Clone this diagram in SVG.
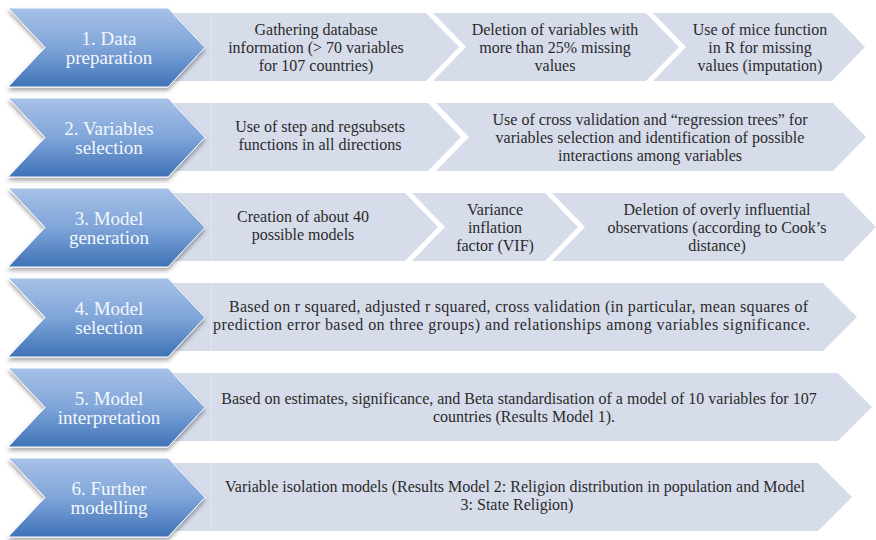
<svg xmlns="http://www.w3.org/2000/svg" width="876" height="540" viewBox="0 0 876 540">
  <defs>
    <linearGradient id="blueFill" x1="0" y1="0" x2="0" y2="1">
      <stop offset="0" stop-color="#a8c1e7"/>
      <stop offset="0.5" stop-color="#7fa5d9"/>
      <stop offset="1" stop-color="#3e72b7"/>
    </linearGradient>
    <filter id="shadow" x="-10%" y="-10%" width="120%" height="130%">
      <feDropShadow dx="0" dy="3" stdDeviation="2" flood-color="#000" flood-opacity="0.35"/>
    </filter>
  </defs>
  <style>
    .step { fill: url(#blueFill); stroke: #ffffff; stroke-width: 1; filter: url(#shadow); }
    .box { fill: #d6dcea; }
    .seam { stroke: #e3e7f0; stroke-width: 1; }
    .stepText { font-family: "Liberation Serif", "Times New Roman", serif; font-size: 19px; fill: #f4f7fc; text-anchor: middle; }
    .boxText { font-family: "Liberation Serif", "Times New Roman", serif; font-size: 16px; fill: #2b2b2b; text-anchor: middle; }
    .left { text-anchor: start; }
  </style>

  <rect width="876" height="540" fill="#ffffff"/>

  <!-- Row 1: Data preparation -->
  <g id="row1">
    <rect class="box" x="172" y="13" width="40" height="68"/>
    <g id="r1b1">
      <polygon class="box" points="211,13 426,13 459,47 426,81 211,81"/>
      <line class="seam" x1="211" y1="13" x2="211" y2="81"/>
      <text class="boxText" x="316" y="35">Gathering database</text>
      <text class="boxText" x="316" y="53">information (&gt; 70 variables</text>
      <text class="boxText" x="316" y="71">for 107 countries)</text>
    </g>
    <g id="r1b2">
      <polygon class="box" points="433,13 646,13 679,47 646,81 433,81 466,47"/>
      <text class="boxText" x="555" y="35">Deletion of variables with</text>
      <text class="boxText" x="555" y="53">more than 25% missing</text>
      <text class="boxText" x="555" y="71">values</text>
    </g>
    <g id="r1b3">
      <polygon class="box" points="653,13 832,13 865,47 832,81 653,81 686,47"/>
      <text class="boxText" x="760" y="35">Use of mice function</text>
      <text class="boxText" x="760" y="53">in R for missing</text>
      <text class="boxText" x="760" y="71">values (imputation)</text>
    </g>
    <g id="step1">
      <polygon class="step" points="8,8 168,8 205,47.5 168,87 8,87 45,47.5"/>
      <text class="stepText" x="109" y="45">1. Data</text>
      <text class="stepText" x="109" y="64">preparation</text>
    </g>
  </g>

  <!-- Row 2: Variables selection -->
  <g id="row2">
    <rect class="box" x="172" y="103" width="40" height="68"/>
    <g id="r2b1">
      <polygon class="box" points="211,103 428,103 461,137 428,171 211,171"/>
      <line class="seam" x1="211" y1="103" x2="211" y2="171"/>
      <text class="boxText" x="320" y="132">Use of step and regsubsets</text>
      <text class="boxText" x="320" y="150">functions in all directions</text>
    </g>
    <g id="r2b2">
      <polygon class="box" points="436,103 833,103 866,137 833,171 436,171 469,137"/>
      <text class="boxText" x="650" y="125">Use of cross validation and “regression trees” for</text>
      <text class="boxText" x="650" y="143">variables selection and identification of possible</text>
      <text class="boxText" x="650" y="161">interactions among variables</text>
    </g>
    <g id="step2">
      <polygon class="step" points="8,98 168,98 205,137.5 168,177 8,177 45,137.5"/>
      <text class="stepText" x="109" y="135">2. Variables</text>
      <text class="stepText" x="109" y="154">selection</text>
    </g>
  </g>

  <!-- Row 3: Model generation -->
  <g id="row3">
    <rect class="box" x="172" y="193" width="40" height="68"/>
    <g id="r3b1">
      <polygon class="box" points="211,193 405,193 438,227 405,261 211,261"/>
      <line class="seam" x1="211" y1="193" x2="211" y2="261"/>
      <text class="boxText" x="303" y="222">Creation of about 40</text>
      <text class="boxText" x="303" y="240">possible models</text>
    </g>
    <g id="r3b2">
      <polygon class="box" points="412,193 545,193 578,227 545,261 412,261 445,227"/>
      <text class="boxText" x="495" y="215">Variance</text>
      <text class="boxText" x="495" y="233">inflation</text>
      <text class="boxText" x="495" y="251">factor (VIF)</text>
    </g>
    <g id="r3b3">
      <polygon class="box" points="552,193 843,193 876,227 843,261 552,261 585,227"/>
      <text class="boxText" x="717" y="215">Deletion of overly influential</text>
      <text class="boxText" x="717" y="233">observations (according to Cook’s</text>
      <text class="boxText" x="717" y="251">distance)</text>
    </g>
    <g id="step3">
      <polygon class="step" points="8,188 168,188 205,227.5 168,267 8,267 45,227.5"/>
      <text class="stepText" x="109" y="225">3. Model</text>
      <text class="stepText" x="109" y="244">generation</text>
    </g>
  </g>

  <!-- Row 4: Model selection -->
  <g id="row4">
    <rect class="box" x="172" y="283" width="40" height="68"/>
    <g id="r4b1">
      <polygon class="box" points="211,283 823,283 857,317 823,351 211,351"/>
      <line class="seam" x1="211" y1="283" x2="211" y2="351"/>
      <text class="boxText left" x="229" y="312" textLength="579">Based on r squared, adjusted r squared, cross validation (in particular, mean squares of</text>
      <text class="boxText left" x="213" y="330" textLength="597">prediction error based on three groups) and relationships among variables significance.</text>
    </g>
    <g id="step4">
      <polygon class="step" points="8,278 168,278 205,317.5 168,357 8,357 45,317.5"/>
      <text class="stepText" x="109" y="315">4. Model</text>
      <text class="stepText" x="109" y="334">selection</text>
    </g>
  </g>

  <!-- Row 5: Model interpretation -->
  <g id="row5">
    <rect class="box" x="172" y="373" width="40" height="68"/>
    <g id="r5b1">
      <polygon class="box" points="211,373 838,373 872,407 838,441 211,441"/>
      <line class="seam" x1="211" y1="373" x2="211" y2="441"/>
      <text class="boxText" x="519" y="404">Based on estimates, significance, and Beta standardisation of a model of 10 variables for 107</text>
      <text class="boxText" x="524" y="422">countries (Results Model 1).</text>
    </g>
    <g id="step5">
      <polygon class="step" points="8,368 168,368 205,407.5 168,447 8,447 45,407.5"/>
      <text class="stepText" x="109" y="405">5. Model</text>
      <text class="stepText" x="109" y="424">interpretation</text>
    </g>
  </g>

  <!-- Row 6: Further modelling -->
  <g id="row6">
    <rect class="box" x="172" y="463" width="40" height="68"/>
    <g id="r6b1">
      <polygon class="box" points="211,463 818,463 852,497 818,531 211,531"/>
      <line class="seam" x1="211" y1="463" x2="211" y2="531"/>
      <text class="boxText" x="515" y="492">Variable isolation models (Results Model 2: Religion distribution in population and Model</text>
      <text class="boxText" x="517" y="510">3: State Religion)</text>
    </g>
    <g id="step6">
      <polygon class="step" points="8,458 168,458 205,497.5 168,537 8,537 45,497.5"/>
      <text class="stepText" x="109" y="495">6. Further</text>
      <text class="stepText" x="109" y="514">modelling</text>
    </g>
  </g>

  <!-- no connectors: the steps are stacked chevrons -->
  <g id="connectors"/>
</svg>
